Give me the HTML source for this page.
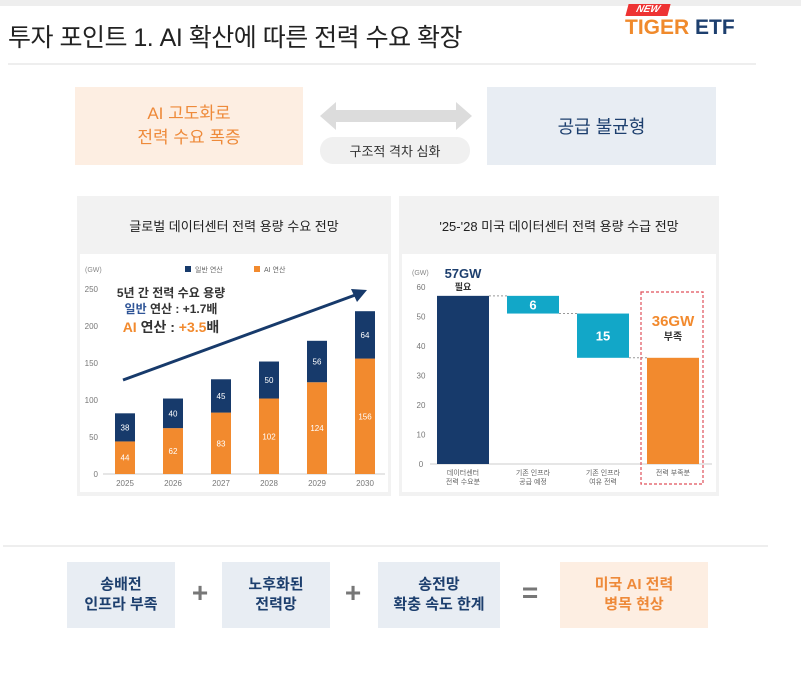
<!DOCTYPE html>
<html><head><meta charset="utf-8">
<style>
*{margin:0;padding:0;box-sizing:border-box}
body{width:801px;height:675px;background:#fff;position:relative;overflow:hidden;font-family:"Liberation Sans","Noto Sans CJK KR",sans-serif}
.a{position:absolute}
.c{display:flex;align-items:center;justify-content:center;text-align:center}
</style></head><body>
<div class="a" style="left:0;top:0;width:801px;height:6px;background:#eeeeee"></div>
<div class="a" style="left:8px;top:18px;font-size:25px;color:#222;letter-spacing:-0.5px">투자 포인트 1. AI 확산에 따른 전력 수요 확장</div>
<div class="a" style="left:627px;top:4px;width:42px;height:12px;background:#e33;transform:skewX(-15deg);color:#fff;font-size:10px;font-weight:bold;font-style:italic;line-height:12px;text-align:center">NEW</div>
<div class="a" style="left:625px;top:16px;font-size:21px;font-weight:bold"><span style="color:#f08a2c">TIGER</span> <span style="color:#1d3f6e">ETF</span></div>
<div class="a" style="left:8px;top:63px;width:748px;height:2px;background:#eee"></div>

<div class="a c" style="left:75px;top:87px;width:228px;height:78px;background:#fdeee2;color:#ee8a3a;font-size:17px;line-height:24px">AI 고도화로<br>전력 수요 폭증</div>
<svg class="a" style="left:320px;top:102px" width="152" height="28"><polygon points="0,14 16,0 16,8 136,8 136,0 152,14 136,28 136,20 16,20 16,28" fill="#dcdcdc"/></svg>
<div class="a c" style="left:320px;top:137px;width:150px;height:27px;background:#f0f0f0;border-radius:13px;font-size:13px;color:#333">구조적 격차 심화</div>
<div class="a c" style="left:487px;top:87px;width:229px;height:78px;background:#e8edf3;color:#1d3f6e;font-size:18px">공급 불균형</div>

<div class="a" style="left:77px;top:196px;width:314px;height:300px;background:#f2f2f2"></div>
<div class="a c" style="left:77px;top:210px;width:314px;height:30px;font-size:13px;color:#222">글로벌 데이터센터 전력 용량 수요 전망</div>
<div class="a" style="left:80px;top:254px;width:308px;height:238px;background:#fff"></div>
<div class="a" style="left:399px;top:196px;width:320px;height:300px;background:#f2f2f2"></div>
<div class="a c" style="left:399px;top:210px;width:320px;height:30px;font-size:13px;color:#222">'25-'28 미국 데이터센터 전력 용량 수급 전망</div>
<div class="a" style="left:402px;top:254px;width:314px;height:238px;background:#fff"></div>

<svg class="a" id="lc" style="left:0;top:0" width="801" height="675"></svg>

<div class="a" style="left:3px;top:545px;width:765px;height:2px;background:#eee"></div>
<div class="a c" style="left:67px;top:562px;width:108px;height:66px;background:#e8edf3;color:#1d3f6e;font-size:15px;font-weight:bold;line-height:20px">송배전<br>인프라 부족</div>
<div class="a c" style="left:185px;top:578px;width:30px;height:30px;font-size:28px;font-weight:bold;color:#777">+</div>
<div class="a c" style="left:222px;top:562px;width:108px;height:66px;background:#e8edf3;color:#1d3f6e;font-size:15px;font-weight:bold;line-height:20px">노후화된<br>전력망</div>
<div class="a c" style="left:338px;top:578px;width:30px;height:30px;font-size:28px;font-weight:bold;color:#777">+</div>
<div class="a c" style="left:378px;top:562px;width:122px;height:66px;background:#e8edf3;color:#1d3f6e;font-size:15px;font-weight:bold;line-height:20px">송전망<br>확충 속도 한계</div>
<div class="a c" style="left:515px;top:578px;width:30px;height:30px;font-size:28px;font-weight:bold;color:#777">=</div>
<div class="a c" style="left:560px;top:562px;width:148px;height:66px;background:#fdeee2;color:#ee8a3a;font-size:15px;font-weight:bold;line-height:20px">미국 AI 전력<br>병목 현상</div>

<script>
const years=["2025","2026","2027","2028","2029","2030"];
const aiVals=[44,62,83,102,124,156];
const genVals=[38,40,45,50,56,64];
const leftTicks=[0,50,100,150,200,250];
const wfCats=[["데이터센터","전력 수요분"],["기존 인프라","공급 예정"],["기존 인프라","여유 전력"],["전력 부족분",""]];
const wfVals=[57,6,15,36];
const rightTicks=[0,10,20,30,40,50,60];

const NS="http://www.w3.org/2000/svg";
const svg=document.getElementById('lc');
function mk(t,a,txt){const e=document.createElementNS(NS,t);for(const k in a)e.setAttribute(k,a[k]);if(txt!==undefined)e.textContent=txt;svg.appendChild(e);return e;}
const F='"Liberation Sans","Noto Sans CJK KR",sans-serif';

// left chart
const ly=v=>474-v*185/250, lx=i=>125+i*48;
leftTicks.forEach(t=>{const e=mk('text',{x:98,y:ly(t)+3,'font-size':8,fill:'#777','text-anchor':'end','font-family':F},t);

});
const u=mk('text',{x:85,y:272,'font-size':7,fill:'#888','font-family':F},'(GW)');


mk('line',{x1:103,x2:385,y1:474,y2:474,stroke:'#ccc','stroke-width':1});
years.forEach((y,i)=>{
 const x=lx(i)-10;
 const b1=mk('rect',{x:x,y:ly(aiVals[i]),width:20,height:ly(0)-ly(aiVals[i]),fill:'#f28a2e'});
 
 
 const b2=mk('rect',{x:x,y:ly(aiVals[i]+genVals[i]),width:20,height:ly(0)-ly(genVals[i]),fill:'#173a6b'});
 
 
 mk('text',{x:lx(i),y:(ly(0)+ly(aiVals[i]))/2+3,'font-size':8,fill:'#fff','text-anchor':'middle','font-family':F},aiVals[i]);
 mk('text',{x:lx(i),y:(ly(aiVals[i])+ly(aiVals[i]+genVals[i]))/2+3,'font-size':8,fill:'#fff','text-anchor':'middle','font-family':F},genVals[i]);
 const t=mk('text',{x:lx(i),y:486,'font-size':8,fill:'#777','text-anchor':'middle','font-family':F},y);
 
 
});
// legend
mk('rect',{x:185,y:266,width:6,height:6,fill:'#173a6b'});
mk('text',{x:195,y:272,'font-size':7,fill:'#666','font-family':F},'일반 연산');
mk('rect',{x:254,y:266,width:6,height:6,fill:'#f28a2e'});
mk('text',{x:264,y:272,'font-size':7,fill:'#666','font-family':F},'AI 연산');
// trend arrow
const ar=mk('line',{x1:123,y1:380,x2:358,y2:294,stroke:'#173a6b','stroke-width':3});


mk('polygon',{points:'367,290 351,289 357,302',fill:'#173a6b'});
mk('text',{x:171,y:297,'font-size':12,'font-weight':'bold',fill:'#333','text-anchor':'middle','font-family':F},'5년 간 전력 수요 용량');
const t2=mk('text',{x:171,y:313,'font-size':12,'font-weight':'bold',fill:'#333','text-anchor':'middle','font-family':F});
t2.innerHTML='<tspan fill="#2f5597">일반</tspan> 연산 : +1.7배';
const t3=mk('text',{x:171,y:332,'font-size':14,'font-weight':'bold',fill:'#333','text-anchor':'middle','font-family':F});
t3.innerHTML='<tspan fill="#f28a2e">AI</tspan> 연산 : <tspan fill="#f28a2e">+3.5</tspan>배';

// right waterfall
const ry=v=>464-v*177/60, rx=i=>463+i*70;
rightTicks.forEach(t=>{const e=mk('text',{x:421,y:ry(t)+3,'font-size':8,fill:'#777','text-anchor':'middle','font-family':F},t);

});
mk('text',{x:412,y:275,'font-size':7,fill:'#888','font-family':F},'(GW)');
mk('line',{x1:430,x2:712,y1:464,y2:464,stroke:'#ccc','stroke-width':1});
const segs=[[0,wfVals[0]],[wfVals[0]-wfVals[1],wfVals[0]],[wfVals[0]-wfVals[1]-wfVals[2],wfVals[0]-wfVals[1]],[0,wfVals[3]]];
const cols=['#173a6b','#12a7c8','#12a7c8','#f28a2e'];
segs.forEach((s,i)=>{
 const r=mk('rect',{x:rx(i)-26,y:ry(s[1]),width:52,height:ry(s[0])-ry(s[1]),fill:cols[i]});
 
 
 if(i<3){const lv=(i==0?s[1]:s[0]);mk('line',{x1:rx(i)+26,x2:rx(i+1)-26,y1:ry(lv),y2:ry(lv),stroke:'#999','stroke-dasharray':'2,2'});}
 if(i==1||i==2) mk('text',{x:rx(i),y:(ry(s[0])+ry(s[1]))/2+5,'font-size':13,'font-weight':'bold',fill:'#fff','text-anchor':'middle','font-family':F},wfVals[i]);
 wfCats[i].forEach((l,j)=>{const t=mk('text',{x:rx(i),y:475+j*9,'font-size':7,fill:'#666','text-anchor':'middle','font-family':F},l);
 
 });
});
mk('text',{x:rx(0),y:278,'font-size':13,'font-weight':'bold',fill:'#1d3f6e','text-anchor':'middle','font-family':F},wfVals[0]+'GW');
mk('text',{x:rx(0),y:290,'font-size':9,'font-weight':'bold',fill:'#333','text-anchor':'middle','font-family':F},'필요');
const db=mk('rect',{x:641,y:292,width:62,height:192,fill:'none',stroke:'#e0505a','stroke-width':1.2,'stroke-dasharray':'3,2'});


mk('text',{x:rx(3),y:326,'font-size':15,'font-weight':'bold',fill:'#f28a2e','text-anchor':'middle','font-family':F},wfVals[3]+'GW');
mk('text',{x:rx(3),y:340,'font-size':10,'font-weight':'bold',fill:'#333','text-anchor':'middle','font-family':F},'부족');
</script>
</body></html>
